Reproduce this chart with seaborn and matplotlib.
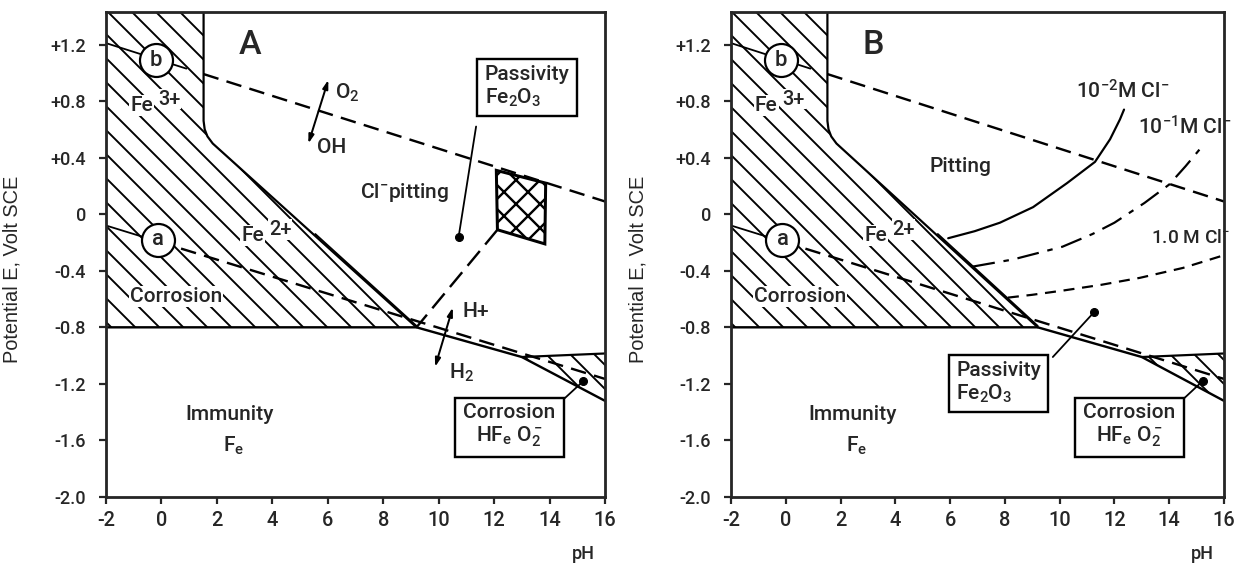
import numpy as np
import pandas as pd
import matplotlib
matplotlib.use("Agg")
import matplotlib.pyplot as plt
from matplotlib import font_manager as fm
from matplotlib.font_manager import FontProperties
from matplotlib.patches import Polygon
import seaborn as sns

# ---------------- data (pH, potential E in V vs SCE) ----------------
ph_ticks = [-2, 0, 2, 4, 6, 8, 10, 12, 14, 16]
E_ticks = [1.2, 0.8, 0.4, 0.0, -0.4, -0.8, -1.2, -1.6, -2.0]
E_tick_labels = ["+1.2", "+0.8", "+0.4", "0", "-0.4", "-0.8", "-1.2", "-1.6", "-2.0"]

# corrosion field of dissolved Fe3+ / Fe2+ ions
ion_field_ph = [-2.0, 1.52, 1.52, 1.56, 1.66, 1.85, 9.2, -2.0]
ion_field_E = [1.5, 1.5, 0.66, 0.60, 0.55, 0.50, -0.80, -0.80]
# second (parallel) trace of the Fe2+ / oxide boundary
edge2_ph = [5.55, 9.2]
edge2_E = [-0.14, -0.79]

# Fe (immunity) boundary and Fe / oxide boundary
immunity_ph = [-2.0, 9.2, 13.0, 16.0]
immunity_E = [-0.80, -0.80, -1.01, -1.32]

# HFeO2- corrosion field
hfeo2_ph = [13.0, 16.0, 16.0]
hfeo2_E = [-1.01, -0.985, -1.32]

# water stability lines (a: H2 evolution, b: O2 evolution)
line_a_ph = [-2.0, 16.0]
line_a_E = [-0.08, -1.165]
line_b_ph = [-2.0, 16.0]
line_b_E = [1.21, 0.09]
circle_a_ph, circle_a_E = -0.12, -0.18
circle_b_ph, circle_b_E = -0.19, 1.09

# panel A: Cl- pitting zone and its link to the triple point
pit_ph = [12.08, 13.86, 13.83, 12.12]
pit_E = [0.31, 0.22, -0.21, -0.11]
pit_link_ph = [12.12, 9.2]
pit_link_E = [-0.11, -0.80]

# panel B: pitting potentials for three chloride concentrations
cl2_ph = [5.93, 6.9, 7.82, 9.03, 10.27, 11.29, 11.84, 12.2, 12.35]
cl2_E = [-0.17, -0.12, -0.06, 0.05, 0.22, 0.37, 0.53, 0.67, 0.74]
cl1_ph = [6.84, 8.3, 10.1, 11.2, 12.0, 13.1, 14.0, 14.6, 15.16]
cl1_E = [-0.37, -0.32, -0.23, -0.14, -0.06, 0.08, 0.21, 0.34, 0.47]
cl0_ph = [8.11, 9.0, 10.12, 11.5, 12.93, 14.5, 16.0]
cl0_E = [-0.59, -0.57, -0.54, -0.50, -0.45, -0.38, -0.29]

# ---------------- style ----------------
sns.set_style("ticks")


def pick(names):
    for n in names:
        try:
            fm.findfont(FontProperties(family=n), fallback_to_default=False)
            return n
        except Exception:
            pass
    return "DejaVu Sans"


MAIN = pick(["Roboto", "Liberation Sans", "DejaVu Sans"])
LABEL = pick(["Liberation Sans", "DejaVu Sans"])
W = "medium"
plt.rcParams["font.family"] = [MAIN, "DejaVu Sans"]
plt.rcParams["font.weight"] = W
plt.rcParams["mathtext.fontset"] = "custom"
plt.rcParams["mathtext.rm"] = MAIN + ":medium"
plt.rcParams["mathtext.it"] = MAIN + ":medium"
plt.rcParams["mathtext.bf"] = MAIN + ":bold"
plt.rcParams["mathtext.default"] = "regular"
plt.rcParams["hatch.linewidth"] = 1.9
plt.rcParams["hatch.color"] = "black"

DPI = 72
fig = plt.figure(figsize=(1241 / DPI, 564 / DPI), dpi=DPI)
fig.patch.set_facecolor("white")
axA = fig.add_axes([106 / 1241, 67 / 564, 499 / 1241, 485 / 564])
axB = fig.add_axes([731 / 1241, 67 / 564, 493 / 1241, 485 / 564])

TXT = 21
WHITE_BG = dict(facecolor="white", edgecolor="none", pad=1.0)


def line(ax, x, y, lw=2.2, ls="-", z=3):
    sns.lineplot(x=list(x), y=list(y), ax=ax, sort=False, estimator=None,
                 color="black", linewidth=lw, linestyle=ls, zorder=z)


def leader(ax, box_xy, dot_xy):
    line(ax, [box_xy[0], dot_xy[0]], [box_xy[1], dot_xy[1]], lw=1.8, z=4)
    ax.plot([dot_xy[0]], [dot_xy[1]], marker="o", ms=8, color="black", zorder=6)


def ion_label(ax, x, y, charge):
    ax.text(x, y, "Fe", fontsize=TXT, ha="right", va="center",
            bbox=WHITE_BG, zorder=6)
    ax.annotate(charge, xy=(x, y), xytext=(5, 6), textcoords="offset points",
                fontsize=20, ha="left", va="center", zorder=6,
                bbox=dict(facecolor="white", edgecolor="none", pad=0.5))


def draw_common(ax, letter):
    ax.set_xlim(-2, 16)
    ax.set_ylim(-2.0, 1.43)
    # hatched corrosion fields
    ax.add_patch(Polygon(np.column_stack([ion_field_ph, ion_field_E]), closed=True,
                         facecolor="white", edgecolor="black", linewidth=0,
                         hatch="\\", zorder=1))
    ax.add_patch(Polygon(np.column_stack([hfeo2_ph, hfeo2_E]), closed=True,
                         facecolor="white", edgecolor="black", linewidth=0,
                         hatch="\\", zorder=1))
    # boundaries
    line(ax, ion_field_ph[1:7], ion_field_E[1:7], lw=2.2)
    line(ax, edge2_ph, edge2_E, lw=1.8)
    line(ax, immunity_ph, immunity_E, lw=2.4)
    line(ax, hfeo2_ph[:2], hfeo2_E[:2], lw=2.2)
    # water lines
    b_at = lambda p: float(np.interp(p, line_b_ph, line_b_E))
    a_at = lambda p: float(np.interp(p, line_a_ph, line_a_E))
    line(ax, [-2.0, circle_b_ph], [b_at(-2.0), b_at(circle_b_ph)], lw=1.8)
    line(ax, [circle_b_ph, 0.9], [b_at(circle_b_ph), b_at(0.9)], lw=1.8)
    line(ax, [ion_field_ph[1], 16.0], [b_at(ion_field_ph[1]), b_at(16.0)],
         lw=2.4, ls=(0, (6.5, 3.5)))
    line(ax, [-2.0, circle_a_ph], [a_at(-2.0), a_at(circle_a_ph)], lw=1.8)
    line(ax, [circle_a_ph, 16.0], [a_at(circle_a_ph), a_at(16.0)],
         lw=2.4, ls=(0, (6.5, 3.5)))
    # circles a and b
    for (cx, cy, t) in [(circle_a_ph, circle_a_E, "a"), (circle_b_ph, circle_b_E, "b")]:
        ax.plot([cx], [cy], marker="o", ms=33, mfc="white", mec="black", mew=2.2, zorder=7)
        ax.text(cx, cy, t, ha="center", va="center", fontsize=22, zorder=8)
    # labels
    ax.text(3.2, 1.20, letter, fontsize=34, ha="center", va="center", zorder=8)
    ion_label(ax, -0.3, 0.77, "3+")
    ion_label(ax, 3.7, -0.15, "2+")
    ax.text(0.52, -0.58, "Corrosion", fontsize=TXT, ha="center", va="center",
            bbox=WHITE_BG, zorder=6)
    ax.text(2.45, -1.42, "Immunity", fontsize=TXT, ha="center", va="center")
    ax.text(2.6, -1.64, "F$_e$", fontsize=TXT, ha="center", va="center")
    ax.text(12.54, -1.335, "Corrosion\nHF$_e$ O$_2^-$", fontsize=TXT, ha="center",
            va="top", multialignment="center", linespacing=1.15, zorder=6,
            bbox=dict(boxstyle="square,pad=0.4", facecolor="white",
                      edgecolor="black", linewidth=2.4))
    leader(ax, (14.5, -1.31), (15.22, -1.18))
    # axes cosmetics
    ax.set_xticks(ph_ticks)
    ax.set_xticklabels([str(t) for t in ph_ticks], fontsize=20)
    ax.set_yticks(E_ticks)
    ax.set_yticklabels(E_tick_labels, fontsize=18)
    ax.tick_params(axis="y", direction="out", length=7, width=2.2, pad=13)
    ax.tick_params(axis="x", direction="out", length=7, width=2.2, pad=7)
    for s in ax.spines.values():
        s.set_visible(True)
        s.set_linewidth(2.8)
        s.set_zorder(10)
    ax.set_xlabel("")
    ax.set_ylabel("Potential E, Volt SCE", fontsize=20, family=LABEL,
                  fontweight="normal")
    ax.yaxis.set_label_coords(-0.17, 0.47)
    ax.text(0.956, -0.117, "pH", transform=ax.transAxes, fontsize=18,
            ha="center", va="center")


# ---------------- panel A ----------------
draw_common(axA, "A")
pit_patch = Polygon(np.column_stack([pit_ph, pit_E]), closed=True,
                    facecolor="white", edgecolor="black", linewidth=3.0,
                    hatch="x", zorder=2)
try:
    pit_patch.set_hatch_linewidth(2.4)
except Exception:
    pass
axA.add_patch(pit_patch)
line(axA, pit_link_ph, pit_link_E, lw=2.4, ls=(0, (8, 3.5)))
axA.text(8.75, 0.15, "Cl$^{-}$pitting", fontsize=TXT, ha="center", va="center")
axA.text(11.66, 1.055, "Passivity\nFe$_2$O$_3$", fontsize=TXT, ha="left", va="top",
         linespacing=1.15, zorder=6,
         bbox=dict(boxstyle="square,pad=0.35", facecolor="white",
                   edgecolor="black", linewidth=2.4))
leader(axA, (11.35, 0.62), (10.72, -0.16))
arrow_kw = dict(arrowstyle="<|-|>,head_length=0.7,head_width=0.22",
                color="black", lw=2.0, shrinkA=0, shrinkB=0)
axA.annotate("", xy=(6.02, 0.95), xytext=(5.30, 0.50), arrowprops=arrow_kw, zorder=6)
axA.text(6.25, 0.86, "O$_2$", fontsize=TXT, ha="left", va="center")
axA.text(5.6, 0.47, "OH", fontsize=TXT, ha="left", va="center")
axA.annotate("", xy=(10.51, -0.66), xytext=(9.87, -1.08), arrowprops=arrow_kw, zorder=6)
axA.text(10.87, -0.69, "H+", fontsize=TXT, ha="left", va="center")
axA.text(10.37, -1.12, "H$_2$", fontsize=TXT, ha="left", va="center")

# ---------------- panel B ----------------
draw_common(axB, "B")
line(axB, cl2_ph, cl2_E, lw=2.2)
line(axB, cl1_ph, cl1_E, lw=2.2, ls=(0, (10, 4, 2.5, 4)))
line(axB, cl0_ph, cl0_E, lw=2.2, ls=(0, (5, 3.5)))
axB.text(6.37, 0.34, "Pitting", fontsize=TXT, ha="center", va="center")
axB.text(10.6, 0.87, "10$^{-2}$M Cl$^{-}$", fontsize=TXT, ha="left", va="center")
axB.text(12.85, 0.62, "10$^{-1}$M Cl$^{-}$", fontsize=TXT, ha="left", va="center")
axB.text(13.35, -0.17, "1.0 M Cl$^{-}$", fontsize=19, ha="left", va="center")
axB.text(6.22, -1.04, "Passivity\nFe$_2$O$_3$", fontsize=TXT, ha="left", va="top",
         linespacing=1.15, zorder=6,
         bbox=dict(boxstyle="square,pad=0.35", facecolor="white",
                   edgecolor="black", linewidth=2.4))
leader(axB, (9.75, -1.01), (11.27, -0.69))

fig.savefig("out.png", dpi=DPI, facecolor="white")
